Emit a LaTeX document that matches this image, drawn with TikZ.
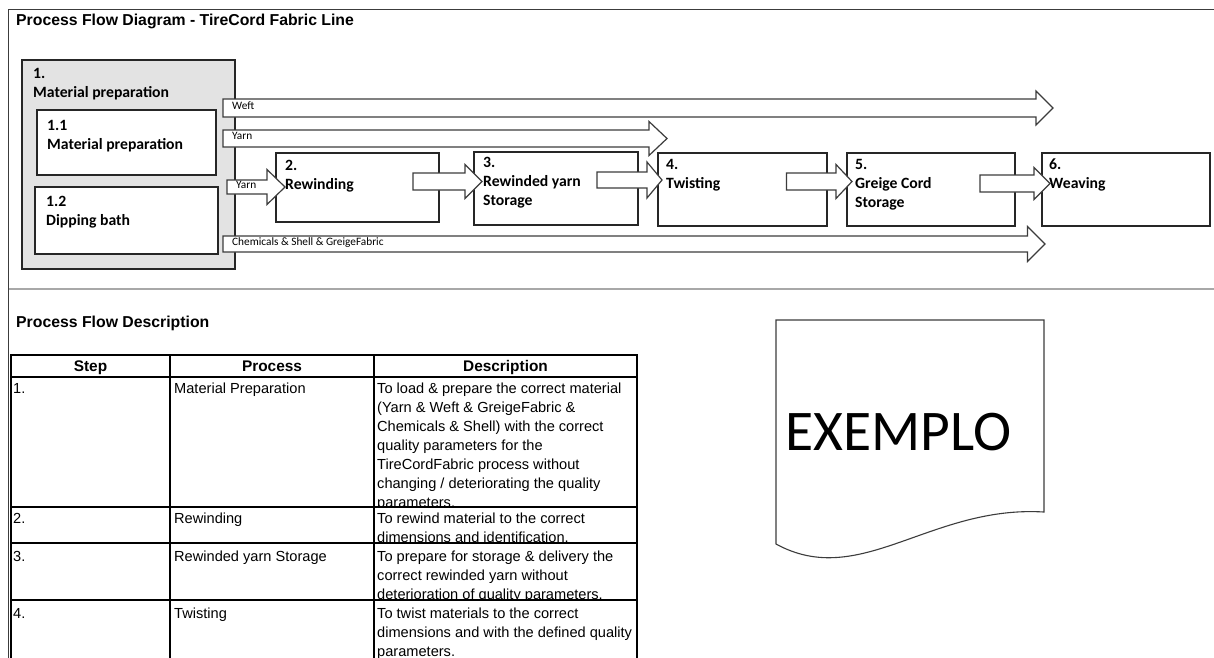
\documentclass[tikz,border=0pt]{standalone}
\usepackage{fontspec}
\setmainfont{Liberation Sans}
\newfontfamily\carl{Carlito}
\usetikzlibrary{calc}

\definecolor{framegray}{HTML}{3C3C3C}
\definecolor{sepgray}{HTML}{A8A8A8}
\definecolor{grpgray}{HTML}{E3E3E3}
\definecolor{edgegray}{HTML}{262626}

% block arrow: #1 tail, #2 tip (same height), #3 half body, #4 half head, #5 head length
\newcommand\blockarrow[5]{%
  \draw[barrow] let \p1=(#1), \p2=(#2) in
    (\x1,\y1+#3pt) -- (\x2-#5pt,\y1+#3pt) -- (\x2-#5pt,\y1+#4pt) -- (\x2,\y1)
    -- (\x2-#5pt,\y1-#4pt) -- (\x2-#5pt,\y1-#3pt) -- (\x1,\y1-#3pt) -- cycle;}

\begin{document}
\begin{tikzpicture}[x=1pt,y=-1pt,
  frame/.style={draw=framegray, line width=1.5pt},
  box/.style={draw=edgegray, line width=1.3pt, fill=white, anchor=north west, inner sep=0pt, outer sep=0pt},
  boxtext/.style={anchor=north west, inner sep=0pt, align=left, font=\carl\bfseries\fontsize{15.7}{19}\selectfont},
  barrow/.style={draw=framegray, line width=1.2pt, fill=white, line join=miter},
  arrlbl/.style={anchor=base west, inner sep=0pt, font=\carl\fontsize{11.3}{13}\selectfont},
  heading/.style={anchor=base west, inner sep=0pt, font=\bfseries\fontsize{15.8}{18}\selectfont},
  cell/.style={anchor=north west, inner sep=0pt, align=left, font=\fontsize{14.6}{19}\selectfont},
  colhead/.style={anchor=base, inner sep=0pt, font=\bfseries\fontsize{15.4}{18}\selectfont},
  grid/.style={draw=black, line width=2.2pt},
  docline/.style={draw=framegray, line width=1.1pt, fill=white}]
\useasboundingbox (0,0) rectangle (1214,657);
\clip (0,0) rectangle (1214,657);
\fill[white] (0,0) rectangle (1214,657);

% sheet frame and section separator
\draw[frame] (1214,9.5) -- (8.5,9.5) -- (8.5,660);
\draw[draw=sepgray, line width=1.5pt] (9,289) -- (1214,289);

\node[heading] (title) at (16,25.5) {Process Flow Diagram - TireCord Fabric Line};

% process boxes
\node[box, fill=grpgray, minimum width=213, minimum height=209] (grp) at (22,60) {};
\node[box, minimum width=179, minimum height=65] (b11) at (37,110) {};
\node[box, minimum width=183, minimum height=67] (b12) at (35,187) {};
\node[box, minimum width=163, minimum height=69] (b2) at (276,153) {};
\node[box, minimum width=164, minimum height=73] (b3) at (474,152) {};
\node[box, minimum width=169, minimum height=73] (b4) at (658,153) {};
\node[box, minimum width=168, minimum height=73] (b5) at (847,153) {};
\node[box, minimum width=168, minimum height=73] (b6) at (1042,153) {};

% arrow ends
\coordinate (weftS) at ($(grp.north east)+(-12,48)$);
\coordinate (weftE) at ($(b6.north west)+(11,-45)$);
\coordinate (yarnS) at ($(grp.north east)+(-12,78.5)$);
\coordinate (yarnE) at ($(b4.north west)+(9,-14.5)$);
\coordinate (yarnbS) at ($(grp.north east)+(-8,127)$);
\coordinate (yarnbE) at ($(b2.north west)+(9,34)$);
\coordinate (chemS) at ($(grp.north east)+(-12,184)$);
\coordinate (chemE) at ($(b6.south west)+(3,18)$);

\blockarrow{weftS}{weftE}{9}{17}{17}
\blockarrow{yarnS}{yarnE}{8.5}{17}{18}
\blockarrow{chemS}{chemE}{8}{17.5}{17.5}
\blockarrow{yarnbS}{yarnbE}{7}{17.5}{18}
\blockarrow{$(b2.north east)+(-26,28.5)$}{$(b3.north west)+(8,29.5)$}{8.5}{17}{17}
\blockarrow{$(b3.north east)+(-41,28)$}{$(b4.north west)+(4,27)$}{8}{18}{15}
\blockarrow{$(b4.north east)+(-40.5,28.5)$}{$(b5.north west)+(5,28.5)$}{8.5}{17}{16}
\blockarrow{$(b5.north east)+(-35,30.5)$}{$(b6.north west)+(8,30.5)$}{8.5}{16}{16}

\node[arrlbl] at ($(weftS)+(9,1)$) {Weft};
\node[arrlbl] at ($(yarnS)+(9,1)$) {Yarn};
\node[arrlbl] at ($(yarnbS)+(9,1)$) {Yarn};
\node[arrlbl] at ($(chemS)+(9,1)$) {Chemicals \& Shell \& GreigeFabric};

% box captions
\node[boxtext] at ($(grp.north west)+(11,4.7)$) {\strut 1.\\\strut Material preparation};
\node[boxtext] at ($(b11.north west)+(10,6.7)$) {\strut 1.1\\\strut Material preparation};
\node[boxtext] at ($(b12.north west)+(11,5.7)$) {\strut 1.2\\\strut Dipping bath};
\node[boxtext] at ($(b2.north west)+(9,3.7)$) {\strut 2.\\\strut Rewinding};
\node[boxtext] at ($(b3.north west)+(9,1.7)$) {\strut 3.\\\strut Rewinded yarn\\\strut Storage};
\node[boxtext] at ($(b4.north west)+(8,2.7)$) {\strut 4.\\\strut Twisting};
\node[boxtext] at ($(b5.north west)+(8,2.7)$) {\strut 5.\\\strut Greige Cord\\\strut Storage};
\node[boxtext] at ($(b6.north west)+(7,2.7)$) {\strut 6.\\\strut Weaving};

% description section
\node[heading] (desc) at (16,327.5) {Process Flow Description};

\node[colhead] at (90.5,371) {Step};
\node[colhead] at (272,371) {Process};
\node[colhead] at (505.5,371) {Description};

\node[cell] at (13,379.7) {\strut 1.};
\node[cell] at (174,379.7) {\strut Material Preparation};
\begin{scope}
  \clip (374,377) rectangle (637,507);
  \node[cell] at (377,379.7) {\strut To load \& prepare the correct material\\\strut (Yarn \& Weft \& GreigeFabric \&\\\strut Chemicals \& Shell) with the correct\\\strut quality parameters for the\\\strut TireCordFabric process without\\\strut changing / deteriorating the quality\\\strut parameters.};
\end{scope}

\node[cell] at (13,509.7) {\strut 2.};
\node[cell] at (174,509.7) {\strut Rewinding};
\begin{scope}
  \clip (374,507) rectangle (637,543);
  \node[cell] at (377,509.7) {\strut To rewind material to the correct\\\strut dimensions and identification.};
\end{scope}

\node[cell] at (13,547.7) {\strut 3.};
\node[cell] at (174,547.7) {\strut Rewinded yarn Storage};
\begin{scope}
  \clip (374,543) rectangle (637,600);
  \node[cell] at (377,547.7) {\strut To prepare for storage \& delivery the\\\strut correct rewinded yarn without\\\strut deterioration of quality parameters.};
\end{scope}

\node[cell] at (13,604.7) {\strut 4.};
\node[cell] at (174,604.7) {\strut Twisting};
\node[cell] at (377,604.7) {\strut To twist materials to the correct\\\strut dimensions and with the defined quality\\\strut parameters.};

% table rules
\draw[grid] (11,355) rectangle (637,665);
\draw[grid] (170,355) -- (170,665) (374,355) -- (374,665);
\draw[grid] (11,377) -- (637,377) (11,507) -- (637,507) (11,543) -- (637,543) (11,600) -- (637,600);

% document symbol
\draw[docline] (776,320) -- (1044,320) -- (1044,512) .. controls (930,505) and (860,590) .. (776,544) -- cycle;
\node[anchor=base west, inner sep=0pt, font=\carl\fontsize{57.5}{60}\selectfont] (doc) at (785.5,450) {EXEMPLO};
\end{tikzpicture}
\end{document}
